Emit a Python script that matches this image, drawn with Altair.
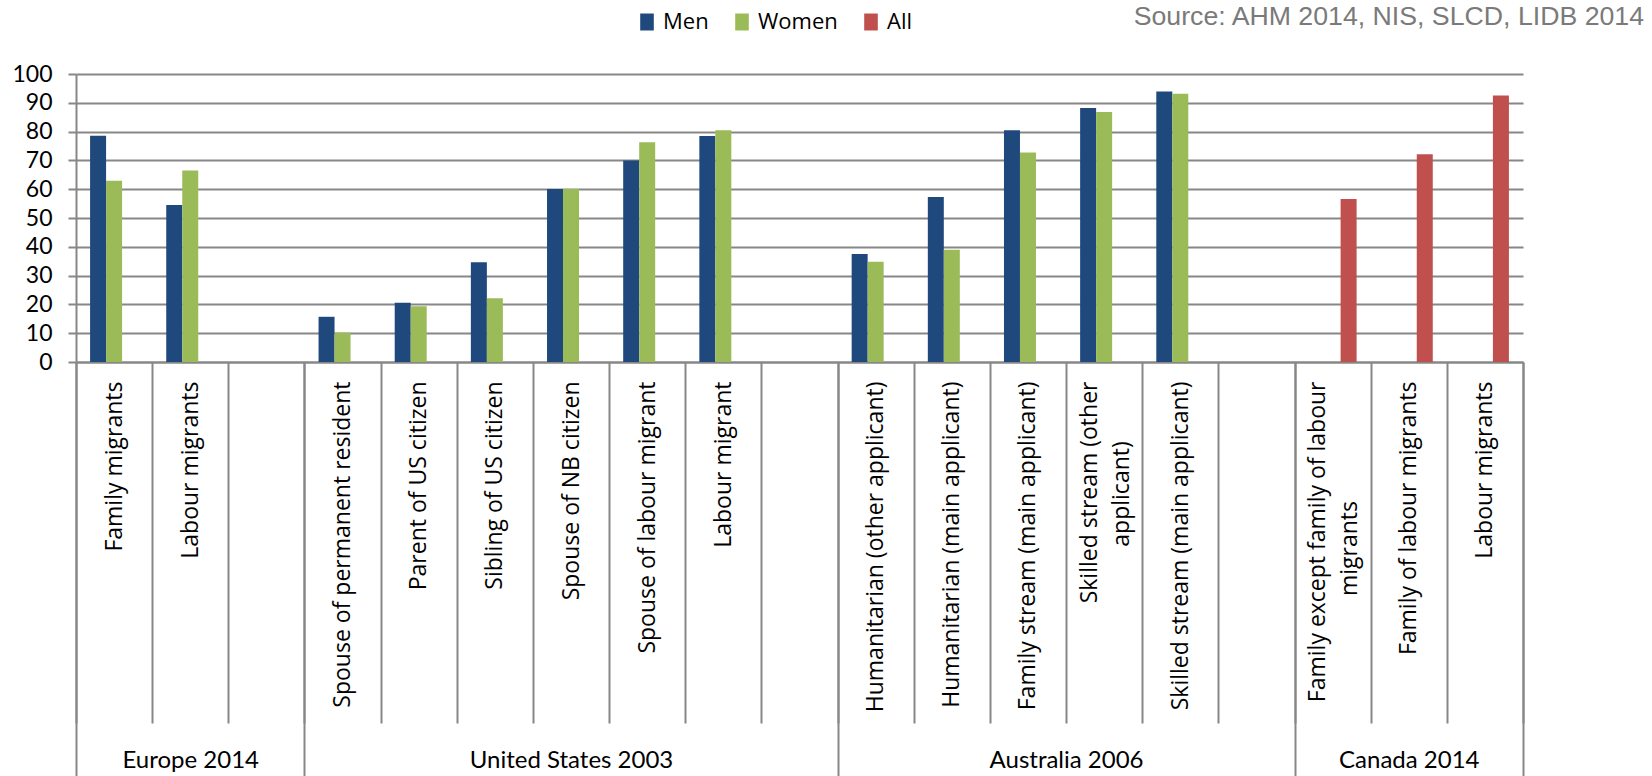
import json
import altair as alt
import pandas as pd

# Survey groups, left to right
groups = ["Europe 2014", "United States 2003", "Australia 2006", "Canada 2014"]

# Category labels of each group; "" is the empty slot that closes a group
europe_cats = ["Family migrants", "Labour migrants", ""]
us_cats = ["Spouse of permanent resident", "Parent of US citizen", "Sibling of US citizen",
           "Spouse of NB citizen", "Spouse of labour migrant", "Labour migrant", ""]
australia_cats = ["Humanitarian (other applicant)", "Humanitarian (main applicant)",
                  "Family stream (main applicant)", "Skilled stream (other\napplicant)",
                  "Skilled stream (main applicant)", ""]
canada_cats = ["Family except family of labour\nmigrants", "Family of labour migrants",
               "Labour migrants"]

# Employment rate (%) by category
europe_men = [78.6, 54.5, None]
europe_women = [62.9, 66.5, None]
us_men = [15.7, 20.6, 34.6, 60.1, 70.0, 78.5, None]
us_women = [10.2, 19.4, 22.1, 60.1, 76.3, 80.5, None]
australia_men = [37.5, 57.3, 80.5, 88.2, 93.9, None]
australia_women = [34.8, 39.0, 72.7, 86.8, 93.1, None]
canada_all = [56.6, 72.1, 92.5]

series = ["Men", "Women", "All"]
series_colors = ["#1F497D", "#9BBB59", "#C0504D"]
y_ticks = list(range(0, 101, 10))
source_note = "Source: AHM 2014, NIS, SLCD, LIDB 2014"

GRID = "#878787"
NBSP = "\u00a0"
ZWSP = "\u200b"  # keeps trailing spaces from being trimmed

group_cats = [europe_cats, us_cats, australia_cats, canada_cats]
group_series = [
    {"Men": europe_men, "Women": europe_women},
    {"Men": us_men, "Women": us_women},
    {"Men": australia_men, "Women": australia_women},
    {"All": canada_all},
]

rows, cat_ids, cat_lines, multi_ids = [], [], {}, []
for g, cats, vals in zip(groups, group_cats, group_series):
    for i, c in enumerate(cats):
        cid = f"{g}|{c}"
        cat_ids.append(cid)
        lines = c.split("\n")
        if len(lines) > 1:
            multi_ids.append(cid)
            # rotated labels are end-anchored: pad the shorter line with
            # spaces (about half a glyph each) so it sits centred
            longest = max(len(l) for l in lines)
            lines = [l + (NBSP * round(0.9 * (longest - len(l))) + ZWSP if len(l) < longest else "")
                     for l in lines]
        cat_lines[cid] = lines
        for s, v in vals.items():
            if v[i] is not None:
                rows.append({"cat": cid, "series": s, "value": v[i]})
df = pd.DataFrame(rows)

# group boundaries and centres on a 0..n category index scale
bounds = [0]
for cats in group_cats:
    bounds.append(bounds[-1] + len(cats))
centers = [(a + b) / 2 for a, b in zip(bounds[:-1], bounds[1:])]
n_cats = bounds[-1]
bounds_df = pd.DataFrame({"pos": bounds})

cat_label_expr = " : ".join(
    f"datum.value == {json.dumps(k, ensure_ascii=False)} ? {json.dumps(v, ensure_ascii=False)}"
    for k, v in cat_lines.items()
) + " : ''"
multi_test = "indexof(" + json.dumps(multi_ids, ensure_ascii=False) + ", datum.value) >= 0"
group_label_expr = " : ".join(
    f"datum.value == {c:g} ? {json.dumps(g)}" for c, g in zip(centers, groups)
) + " : ''"
center_test = "indexof([" + ",".join(f"{c:g}" for c in centers) + "], datum.value) >= 0"

bars = alt.Chart(df).mark_bar().encode(
    x=alt.X(
        "cat:N",
        sort=cat_ids,
        scale=alt.Scale(domain=cat_ids, paddingInner=0, paddingOuter=0),
        axis=alt.Axis(
            title=None,
            orient="bottom",
            tickBand="extent",
            ticks=True,
            tickSize=361,
            tickWidth=2,
            tickColor=GRID,
            domain=True,
            domainColor=GRID,
            domainWidth=2,
            labelExpr=cat_label_expr,
            labelAngle=-90,
            labelAlign="right",
            labelBaseline="middle",
            labelPadding=-342,
            labelOffset={"condition": {"test": multi_test, "value": -15}, "value": 0},
            labelFont="Open Sans",
            labelFontSize=23,
            labelColor="#000000",
            labelLineHeight=32,
            labelLimit=1000,
            labelOverlap=False,
        ),
    ),
    xOffset=alt.XOffset(
        "series:N",
        scale=alt.Scale(domain=series, paddingInner=0, paddingOuter=0.88),
    ),
    y=alt.Y(
        "value:Q",
        scale=alt.Scale(domain=[0, 100], nice=False),
        axis=alt.Axis(
            title=None,
            values=y_ticks,
            grid=True,
            gridColor=GRID,
            gridWidth=2,
            domainColor=GRID,
            domainWidth=2,
            tickColor=GRID,
            tickWidth=2,
            tickSize=8,
            labelPadding=16,
            labelFont="Lato",
            labelFontSize=23,
            labelColor="#000000",
        ),
    ),
    color=alt.Color(
        "series:N",
        scale=alt.Scale(domain=series, range=series_colors),
        legend=alt.Legend(
            title=None,
            orient="none",
            legendX=560,
            legendY=-63,
            direction="horizontal",
            padding=0,
            symbolType="M-0.8,-1H0.8V1H-0.8Z",
            symbolSize=289,
            symbolStrokeWidth=0,
            labelFont="Open Sans",
            labelFontSize=22,
            labelColor="#000000",
            labelOffset=5,
            columnPadding=22,
        ),
    ),
)

# group separators running to the bottom edge, with the group names
group_axis = alt.Chart(bounds_df).mark_point(opacity=0).encode(
    x=alt.X(
        "pos:Q",
        scale=alt.Scale(domain=[0, n_cats], nice=False, zero=False),
        axis=alt.Axis(
            title=None,
            orient="bottom",
            values=sorted(bounds + centers),
            domain=False,
            grid=False,
            ticks=True,
            tickSize=414,
            tickWidth=2,
            tickColor=GRID,
            tickOpacity={"condition": {"test": center_test, "value": 0}, "value": 1},
            labelExpr=group_label_expr,
            labelAngle=0,
            labelAlign="center",
            labelBaseline="middle",
            labelPadding=-16,
            labelFont="Lato",
            labelFontSize=24,
            labelColor="#000000",
            labelLimit=1000,
            labelFlush=False,
            labelOverlap=False,
        ),
    ),
)

chart = (
    alt.layer(bars, group_axis)
    .resolve_scale(x="independent")
    .properties(
        width=1447,
        height=288,
        autosize=alt.AutoSizeParams(type="none"),
        padding={"left": 76, "top": 74, "right": 129, "bottom": 414},
        title=alt.TitleParams(
            text=source_note,
            anchor="end",
            frame="group",
            orient="top",
            dx=121,
            dy=56,
            font="Liberation Sans",
            fontSize=26.7,
            fontWeight="normal",
            color="#7a7a7a",
            offset=36,
        ),
        background="#ffffff",
    )
    .configure_view(strokeWidth=0)
)

chart.save("out.html", embed_options={"renderer": "svg", "actions": False})
